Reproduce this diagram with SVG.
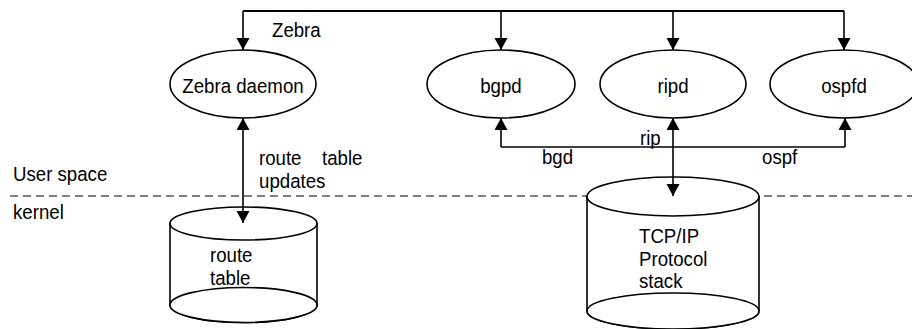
<svg xmlns="http://www.w3.org/2000/svg" width="912" height="329" viewBox="0 0 912 329">
  <style>
    text { font-family: "Liberation Sans", Arial, sans-serif; font-size: 20.5px; fill: #000; }
    .mid { text-anchor: middle; }
    .shape { fill: #fff; stroke: #000; stroke-width: 1.6; }
    .wire { fill: none; stroke: #000; stroke-width: 1.6; }
    .bus { fill: none; stroke: #000; stroke-width: 2; }
    .divider { fill: none; stroke: #000; stroke-width: 1.2; stroke-dasharray: 8 5; }
  </style>
  <defs>
    <marker id="arrow" markerUnits="userSpaceOnUse" markerWidth="13" markerHeight="14" refX="12" refY="6.5" orient="auto-start-reverse">
      <path d="M0,0 L12,6.5 L0,13 z" fill="#000"/>
    </marker>
  </defs>

  <rect width="912" height="329" fill="#fff"/>

  <!-- user space / kernel boundary -->
  <g id="boundary">
    <line class="divider" x1="10" y1="196" x2="912" y2="196"/>
    <text x="13" y="181" textLength="94.3" lengthAdjust="spacingAndGlyphs">User space</text>
    <text x="13" y="219" textLength="50.8" lengthAdjust="spacingAndGlyphs">kernel</text>
  </g>

  <!-- daemons -->
  <g id="zebra-daemon">
    <ellipse class="shape" cx="243" cy="84" rx="73" ry="34"/>
    <text class="mid" x="243" y="93" textLength="121.3" lengthAdjust="spacingAndGlyphs">Zebra daemon</text>
  </g>
  <g id="bgpd">
    <ellipse class="shape" cx="501" cy="84" rx="74" ry="34"/>
    <text class="mid" x="501" y="93" textLength="41.5" lengthAdjust="spacingAndGlyphs">bgpd</text>
  </g>
  <g id="ripd">
    <ellipse class="shape" cx="673" cy="84" rx="73" ry="34"/>
    <text class="mid" x="673" y="93" textLength="31.1" lengthAdjust="spacingAndGlyphs">ripd</text>
  </g>
  <g id="ospfd">
    <ellipse class="shape" cx="844" cy="84" rx="74" ry="34"/>
    <text class="mid" x="844" y="93" textLength="45.6" lengthAdjust="spacingAndGlyphs">ospfd</text>
  </g>

  <!-- kernel stores -->
  <g id="route-table">
    <path class="shape" d="M170,223.5 L170,305 A73.5,17.5 0 0 0 317,305 L317,223.5 Z"/>
    <ellipse class="shape" cx="243.5" cy="305" rx="73.5" ry="17.5"/>
    <ellipse class="shape" cx="243.5" cy="223.5" rx="73.5" ry="16.5"/>
    <text x="210" y="262" textLength="42.5" lengthAdjust="spacingAndGlyphs">route</text>
    <text x="210" y="285" textLength="40.4" lengthAdjust="spacingAndGlyphs">table</text>
  </g>
  <g id="tcpip-stack">
    <path class="shape" d="M587,196.5 L587,311 A86,18 0 0 0 759,311 L759,196.5 Z"/>
    <ellipse class="shape" cx="673" cy="311" rx="86" ry="18"/>
    <ellipse class="shape" cx="673" cy="196.5" rx="86" ry="19.5"/>
    <text x="639" y="243" textLength="60.1" lengthAdjust="spacingAndGlyphs">TCP/IP</text>
    <text x="639" y="266" textLength="68.4" lengthAdjust="spacingAndGlyphs">Protocol</text>
    <text x="639" y="288" textLength="43.5" lengthAdjust="spacingAndGlyphs">stack</text>
  </g>

  <!-- connectors -->
  <g id="connectors">
    <!-- Zebra message bus -->
    <line class="bus" x1="243" y1="11" x2="844" y2="11"/>
    <line class="wire" x1="243" y1="11" x2="243" y2="50" marker-end="url(#arrow)"/>
    <line class="wire" x1="501" y1="11" x2="501" y2="50" marker-end="url(#arrow)"/>
    <line class="wire" x1="673" y1="11" x2="673" y2="50" marker-end="url(#arrow)"/>
    <line class="wire" x1="844" y1="11" x2="844" y2="50" marker-end="url(#arrow)"/>
    <text x="272" y="37" textLength="48.7" lengthAdjust="spacingAndGlyphs">Zebra</text>

    <!-- route table updates -->
    <line class="wire" x1="243" y1="118" x2="243" y2="223" marker-start="url(#arrow)" marker-end="url(#arrow)"/>
    <text y="165"><tspan x="259" textLength="42.5" lengthAdjust="spacingAndGlyphs">route</tspan><tspan x="322" textLength="40.4" lengthAdjust="spacingAndGlyphs">table</tspan></text>
    <text x="259" y="188" textLength="66.4" lengthAdjust="spacingAndGlyphs">updates</text>

    <!-- protocol sockets -->
    <line class="wire" x1="501" y1="147" x2="845" y2="147"/>
    <line class="wire" x1="501" y1="147" x2="501" y2="118" marker-end="url(#arrow)"/>
    <line class="wire" x1="845" y1="147" x2="845" y2="118" marker-end="url(#arrow)"/>
    <line class="wire" x1="673" y1="118" x2="673" y2="196" marker-start="url(#arrow)" marker-end="url(#arrow)"/>
    <text x="640" y="145" textLength="20.7" lengthAdjust="spacingAndGlyphs">rip</text>
    <text x="542" y="164" textLength="31.1" lengthAdjust="spacingAndGlyphs">bgd</text>
    <text x="762" y="164" textLength="35.3" lengthAdjust="spacingAndGlyphs">ospf</text>
  </g>
</svg>
